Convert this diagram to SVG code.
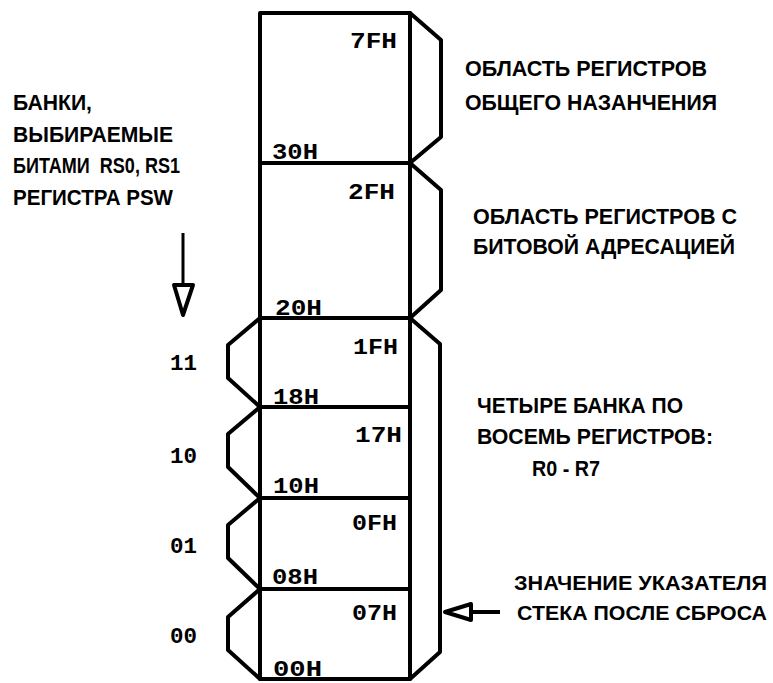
<svg xmlns="http://www.w3.org/2000/svg" width="773" height="683" viewBox="0 0 773 683">
<style>
.ln{fill:none;stroke:#000;stroke-width:4;stroke-linejoin:round;stroke-linecap:round}
.br{fill:none;stroke:#000;stroke-width:4;stroke-linejoin:round;stroke-linecap:round}
.lbl{font-family:"Liberation Sans",Arial,sans-serif;font-weight:bold;font-size:22px;fill:#000}
.sm{font-size:20px}
.adr{font-family:"Liberation Mono","DejaVu Sans Mono",monospace;font-weight:bold;font-size:22px;fill:#000}
</style>
<rect width="773" height="683" fill="#fff"/>
<g id="memory-column">
<rect class="ln" x="260" y="13" width="150" height="666"/>
<line class="ln" x1="260" y1="163" x2="410" y2="163"/>
<line class="ln" x1="260" y1="318" x2="410" y2="318"/>
<line class="ln" x1="260" y1="407" x2="410" y2="407"/>
<line class="ln" x1="260" y1="498" x2="410" y2="498"/>
<line class="ln" x1="260" y1="589" x2="410" y2="589"/>
</g>
<g id="area-general">
<polyline class="br" points="410,13 441,40 441,137 410,163"/>
<text class="adr" x="350" y="48" textLength="47" lengthAdjust="spacingAndGlyphs">7FH</text>
<text class="adr" x="272" y="159" textLength="46" lengthAdjust="spacingAndGlyphs">30H</text>
</g>
<g id="area-bit">
<polyline class="br" points="410,163 441,190 441,290 410,318"/>
<text class="adr" x="348" y="199" textLength="47" lengthAdjust="spacingAndGlyphs">2FH</text>
<text class="adr" x="275" y="315" textLength="47" lengthAdjust="spacingAndGlyphs">20H</text>
</g>
<g id="area-banks">
<polyline class="br" points="410,318 440,344 440,652 410,679"/>
</g>
<g id="bank-11">
<polyline class="br" points="260,318 228,345 228,378 260,407"/>
<text class="adr" x="353" y="354" textLength="45" lengthAdjust="spacingAndGlyphs">1FH</text>
<text class="adr" x="273" y="404" textLength="46" lengthAdjust="spacingAndGlyphs">18H</text>
<text class="adr" x="170" y="370" textLength="27" lengthAdjust="spacingAndGlyphs">11</text>
</g>
<g id="bank-10">
<polyline class="br" points="260,407 228,434 228,467 260,498"/>
<text class="adr" x="355" y="442" textLength="47" lengthAdjust="spacingAndGlyphs">17H</text>
<text class="adr" x="273" y="493" textLength="46" lengthAdjust="spacingAndGlyphs">10H</text>
<text class="adr" x="170" y="463" textLength="27" lengthAdjust="spacingAndGlyphs">10</text>
</g>
<g id="bank-01">
<polyline class="br" points="260,498 228,525 228,558 260,589"/>
<text class="adr" x="352" y="530" textLength="45" lengthAdjust="spacingAndGlyphs">0FH</text>
<text class="adr" x="272" y="584" textLength="46" lengthAdjust="spacingAndGlyphs">08H</text>
<text class="adr" x="170" y="553" textLength="27" lengthAdjust="spacingAndGlyphs">01</text>
</g>
<g id="bank-00">
<polyline class="br" points="260,589 228,617 228,650 260,679"/>
<text class="adr" x="352" y="620" textLength="45" lengthAdjust="spacingAndGlyphs">07H</text>
<text class="adr" x="273" y="676" textLength="49" lengthAdjust="spacingAndGlyphs">00H</text>
<text class="adr" x="170" y="643" textLength="27" lengthAdjust="spacingAndGlyphs">00</text>
</g>
<g id="label-banks">
<text class="lbl" x="13" y="110" textLength="79" lengthAdjust="spacingAndGlyphs">БАНКИ,</text>
<text class="lbl" x="13" y="142" textLength="160" lengthAdjust="spacingAndGlyphs">ВЫБИРАЕМЫЕ</text>
<text class="lbl" x="13" y="173" textLength="167" lengthAdjust="spacingAndGlyphs" xml:space="preserve">БИТАМИ  RS0, RS1</text>
<text class="lbl" x="13" y="205" textLength="160" lengthAdjust="spacingAndGlyphs">РЕГИСТРА PSW</text>
</g>
<g id="label-general">
<text class="lbl" x="465" y="76" textLength="242" lengthAdjust="spacingAndGlyphs">ОБЛАСТЬ РЕГИСТРОВ</text>
<text class="lbl" x="465" y="110" textLength="252" lengthAdjust="spacingAndGlyphs">ОБЩЕГО НАЗАНЧЕНИЯ</text>
</g>
<g id="label-bit">
<text class="lbl" x="473" y="224" textLength="264" lengthAdjust="spacingAndGlyphs">ОБЛАСТЬ РЕГИСТРОВ С</text>
<text class="lbl" x="473" y="254" textLength="262" lengthAdjust="spacingAndGlyphs">БИТОВОЙ АДРЕСАЦИЕЙ</text>
</g>
<g id="label-four-banks">
<text class="lbl" x="477" y="413" textLength="206" lengthAdjust="spacingAndGlyphs">ЧЕТЫРЕ БАНКА ПО</text>
<text class="lbl" x="477" y="444" textLength="236" lengthAdjust="spacingAndGlyphs">ВОСЕМЬ РЕГИСТРОВ:</text>
<text class="lbl" x="532" y="476" textLength="68" lengthAdjust="spacingAndGlyphs">R0 - R7</text>
</g>
<g id="label-sp">
<text class="lbl sm" x="514" y="590" textLength="253" lengthAdjust="spacingAndGlyphs">ЗНАЧЕНИЕ УКАЗАТЕЛЯ</text>
<text class="lbl sm" x="517" y="620" textLength="250" lengthAdjust="spacingAndGlyphs">СТЕКА ПОСЛЕ СБРОСА</text>
</g>
<g id="connectors">
<line x1="183" y1="233" x2="183" y2="284" stroke="#000" stroke-width="3"/>
<polygon points="174,285 193,285 183,315" fill="#fff" stroke="#000" stroke-width="4" stroke-linejoin="round"/>
<line x1="471" y1="612" x2="500" y2="612" stroke="#000" stroke-width="4"/>
<polygon points="445,612 471,604 471,620" fill="#fff" stroke="#000" stroke-width="4" stroke-linejoin="round"/>
</g>
</svg>
